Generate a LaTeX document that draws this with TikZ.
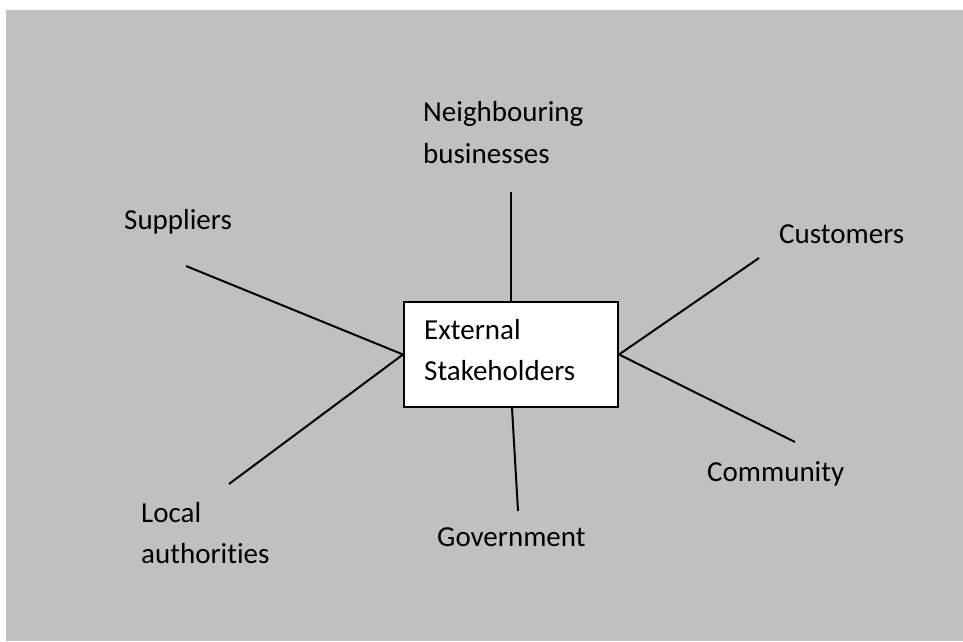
\documentclass[tikz,border=0pt]{standalone}
\usepackage{fontspec}
\setmainfont{Carlito}[Ligatures=NoCommon]
\begin{document}
\begin{tikzpicture}[x=1pt,y=1pt,
  lbl/.style={anchor=base west, inner sep=0pt, align=left, font=\fontsize{29}{41.5}\selectfont, text=black},
  conn/.style={line width=2pt, draw=black},
  hub/.style={draw=black, line width=2pt, fill=white, minimum width=214pt, minimum height=105pt, inner sep=0pt}]
\useasboundingbox (0,0) rectangle (963,641);
\fill[fill={rgb,255:red,192;green,192;blue,192}] (6,0) rectangle (963,631);
\node[hub] (box) at (511,286.5) {};
\node[lbl] (boxtext) at (424,260.5) {External\\Stakeholders};
\coordinate (sup) at (186,375);
\coordinate (loc) at (229,157);
\coordinate (cus) at (759,383);
\coordinate (com) at (795,199);
\coordinate (nei) at (511,449);
\coordinate (gov) at (518,130);
\draw[conn] (box.west) -- (sup);
\draw[conn] (box.west) -- (loc);
\draw[conn] (box.east) -- (cus);
\draw[conn] (box.east) -- (com);
\draw[conn] (box.north) -- (nei);
\draw[conn] ([xshift=1pt]box.south) -- (gov);
\node[lbl] (tsup) at (124,411) {Suppliers};
\node[lbl] (tloc) at (141,77.5) {Local\\authorities};
\node[lbl] (tcus) at (779,398) {Customers};
\node[lbl] (tcom) at (707,160) {Community};
\node[lbl] (tnei) at (423,477.5) {Neighbouring\\businesses};
\node[lbl] (tgov) at (437,95) {Government};
\end{tikzpicture}
\end{document}
